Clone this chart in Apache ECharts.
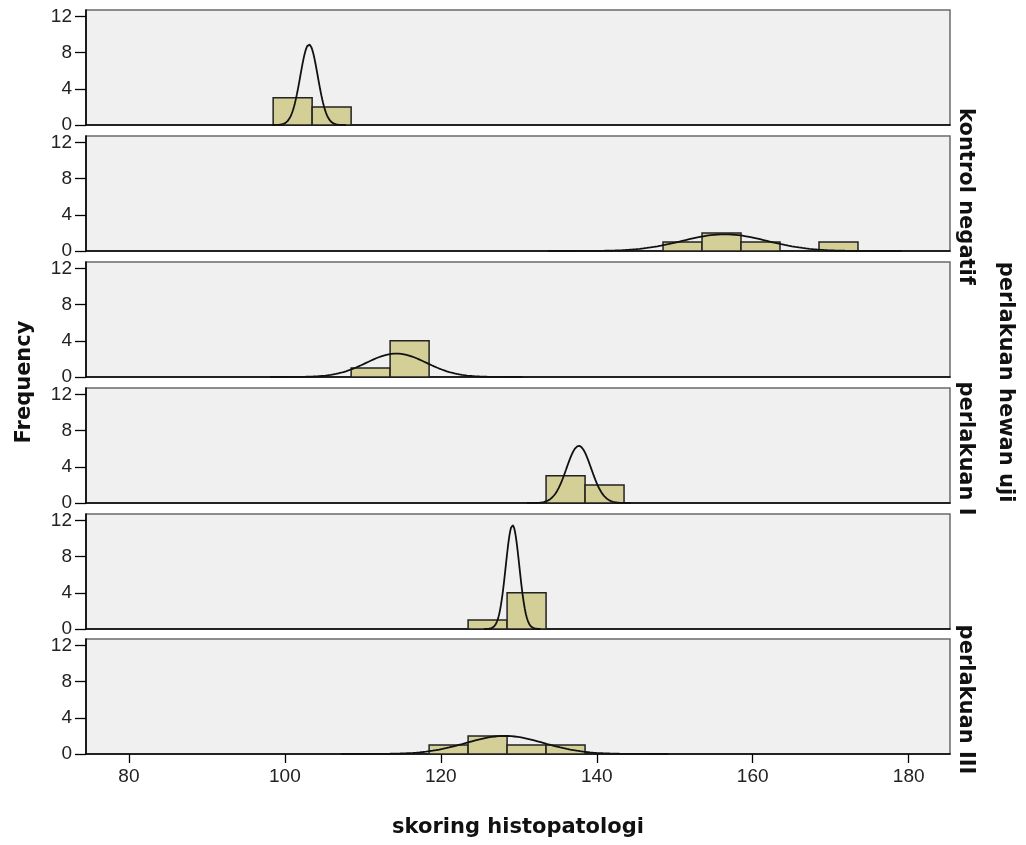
<!DOCTYPE html>
<html>
<head>
<meta charset="utf-8">
<script src="https://cdn.jsdelivr.net/npm/echarts@6/dist/echarts.min.js"></script>
<style>
html,body{margin:0;padding:0;background:#fff;}
#chart{width:1026px;height:845px;}
</style>
</head>
<body>
<div id="chart"></div>
<script>
// ---- data ----
const xTicks = [80, 100, 120, 140, 160, 180];
const yTicks = [0, 4, 8, 12];
const groupLabels = ["", "kontrol negatif", "", "perlakuan I", "", "perlakuan III"];
const binWidth = 5;
const binStarts = [98.5, 148.5, 108.5, 133.5, 123.5, 118.5];
const binCounts = [
  [3, 2],
  [1, 2, 1, 0, 1],
  [1, 4],
  [3, 2],
  [1, 4],
  [1, 2, 1, 1]
];
const groupN = [5, 5, 5, 5, 5, 5];
const groupMean = [103.1, 156.4, 114.3, 137.7, 129.2, 128.2];
const groupSD = [1.12, 5.4, 3.85, 1.58, 0.87, 5.0];

// ---- layout ----
const xMin = 74.5, xMax = 185.3, yMax = 12.7;
const gLeft = 86, gWidth = 864;
const gTops = [10, 136, 262, 388, 514, 639];
const gHeight = 115;
const tickFont = "Liberation Sans";
const titleFont = "'DejaVu Sans', Verdana, sans-serif";

const grids = [], xAxes = [], yAxes = [], series = [], graphics = [];

for (let i = 0; i < 6; i++) {
  const last = i === 5;
  grids.push({
    left: gLeft, width: gWidth, top: gTops[i], height: gHeight,
    show: true, backgroundColor: '#f0f0f0', borderColor: '#6a6a6a', borderWidth: 1.5
  });
  xAxes.push({
    type: 'value', gridIndex: i, min: xMin, max: xMax,
    axisLine: { show: true, onZero: false, lineStyle: { color: '#000', width: 1.6 } },
    axisTick: { show: last, length: 9, customValues: xTicks, lineStyle: { color: '#000', width: 1.3 } },
    axisLabel: { show: last, customValues: xTicks, fontSize: 19, color: '#222', fontFamily: tickFont, margin: 13 },
    splitLine: { show: false }
  });
  yAxes.push({
    type: 'value', gridIndex: i, min: 0, max: yMax,
    axisLine: { show: true, onZero: false, lineStyle: { color: '#000', width: 1.6 } },
    axisTick: { show: true, length: 11, customValues: yTicks, lineStyle: { color: '#000', width: 1.3 } },
    axisLabel: { show: true, customValues: yTicks, fontSize: 19, color: '#222', fontFamily: tickFont, margin: 14 },
    splitLine: { show: false }
  });

  // histogram bars
  const barData = binCounts[i].map((c, k) => [binStarts[i] + k * binWidth, binStarts[i] + (k + 1) * binWidth, c]);
  series.push({
    type: 'custom', xAxisIndex: i, yAxisIndex: i, z: 2,
    data: barData,
    renderItem: function (params, api) {
      const c = api.value(2);
      if (!c) return null;
      const p0 = api.coord([api.value(0), c]);
      const p1 = api.coord([api.value(1), 0]);
      return {
        type: 'rect',
        shape: { x: p0[0], y: p0[1], width: p1[0] - p0[0], height: p1[1] - p0[1] },
        style: { fill: '#d3cf97', stroke: '#222', lineWidth: 1.5 }
      };
    }
  });

  // normal curve (N * binWidth * pdf)
  const m = groupMean[i], s = groupSD[i], n = groupN[i];
  const pts = [];
  const lo = m - 4.2 * s, hi = m + 4.2 * s;
  for (let k = 0; k <= 200; k++) {
    const x = lo + (hi - lo) * k / 200;
    const z = (x - m) / s;
    pts.push([x, n * binWidth * Math.exp(-0.5 * z * z) / (s * Math.sqrt(2 * Math.PI))]);
  }
  series.push({
    type: 'line', xAxisIndex: i, yAxisIndex: i, z: 3,
    data: pts, showSymbol: false, symbol: 'none', smooth: false,
    lineStyle: { color: '#111', width: 1.8 }, silent: true
  });

  if (groupLabels[i]) {
    graphics.push({
      type: 'text', x: 965, y: gTops[i] + gHeight / 2 + 3, rotation: -Math.PI / 2,
      style: { text: groupLabels[i], font: 'bold 21px ' + titleFont, fill: '#111', align: 'center', verticalAlign: 'middle' }
    });
  }
}

graphics.push({
  type: 'text', x: 1005, y: 382, rotation: -Math.PI / 2,
  style: { text: 'perlakuan hewan uji', font: 'bold 21px ' + titleFont, fill: '#111', align: 'center', verticalAlign: 'middle' }
});
graphics.push({
  type: 'text', x: 25, y: 382, rotation: Math.PI / 2,
  style: { text: 'Frequency', font: 'bold 21px ' + titleFont, fill: '#111', align: 'center', verticalAlign: 'middle' }
});
graphics.push({
  type: 'text', x: gLeft + gWidth / 2, y: 828,
  style: { text: 'skoring histopatologi', font: 'bold 21px ' + titleFont, fill: '#111', align: 'center', verticalAlign: 'middle' }
});

const chart = echarts.init(document.getElementById('chart'), null, { renderer: 'canvas' });
chart.setOption({
  animation: false,
  backgroundColor: '#ffffff',
  grid: grids,
  xAxis: xAxes,
  yAxis: yAxes,
  series: series,
  graphic: graphics
});
</script>
</body>
</html>
